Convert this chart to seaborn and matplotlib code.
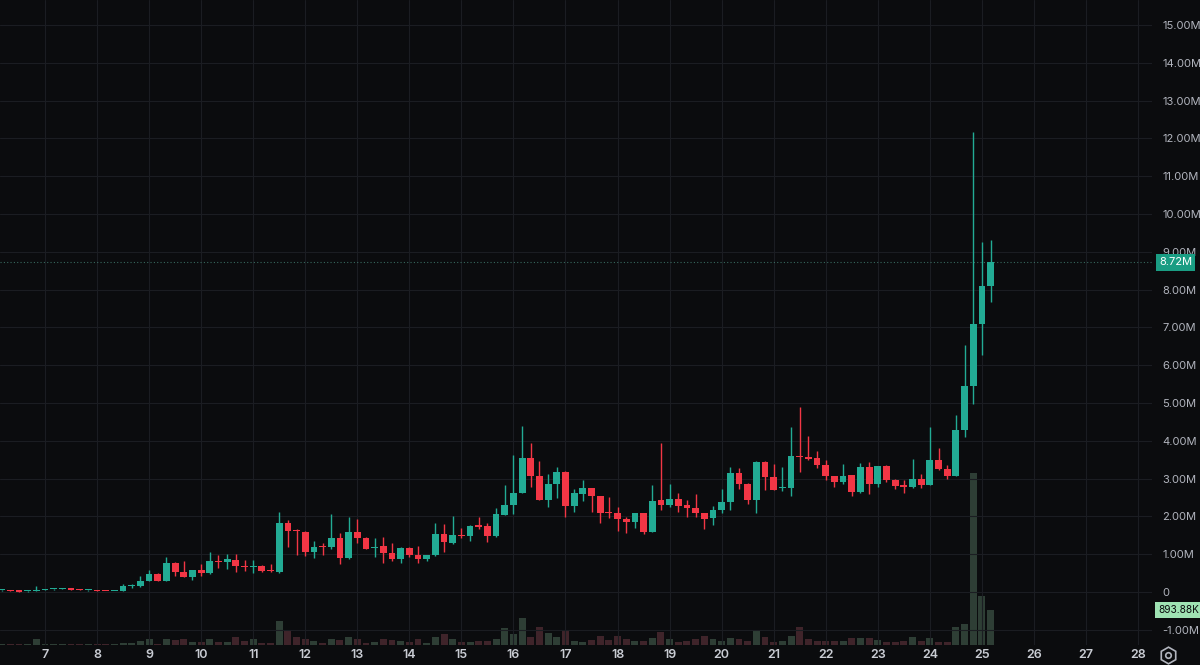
import numpy as np
import pandas as pd
import matplotlib
matplotlib.use("Agg")
import matplotlib.pyplot as plt
from matplotlib.lines import Line2D
import matplotlib.transforms as mtransforms
import seaborn as sns

# ---------------- data (4h candles, prices in millions, volume in K) ----------------
start_day = 6 + 1 / 6     # time of first candle (day of month)
step_days = 1 / 6         # 4-hour candles

opens = [0.04, 0.045, 0.03, 0.015, 0.03, 0.06, 0.07, 0.08, 0.10, 0.07,
         0.04, 0.04, 0.03, 0.02, 0.03, 0.16, 0.15, 0.29, 0.48, 0.29,
         0.78, 0.53, 0.40, 0.58, 0.50, 0.82, 0.80, 0.85, 0.70, 0.67,
         0.70, 0.56, 0.53, 1.82, 1.64, 1.60, 1.07, 1.23, 1.18, 1.42,
         0.89, 1.58, 1.44, 1.17, 1.22, 1.02, 0.87, 1.16, 0.99, 0.87,
         0.98, 1.53, 1.30, 1.52, 1.48, 1.76, 1.75, 1.49, 2.05, 2.30,
         2.63, 3.54, 3.07, 2.43, 2.86, 3.18, 2.28, 2.60, 2.74, 2.54,
         2.10, 2.10, 1.93, 1.84, 2.08, 1.60, 2.43, 2.30, 2.46, 2.30,
         2.22, 2.10, 1.95, 2.16, 2.39, 3.16, 2.85, 2.43, 3.45, 3.05,
         2.74, 2.76, 3.60, 3.58, 3.55, 3.37, 3.07, 2.90, 3.09, 2.64,
         3.30, 2.86, 3.33, 2.96, 2.81, 2.79, 2.99, 2.84, 3.48, 3.25,
         3.08, 4.28, 5.46, 7.09, 8.10]
highs = [0.05, 0.05, 0.035, 0.03, 0.16, 0.08, 0.085, 0.11, 0.105, 0.08,
         0.05, 0.045, 0.035, 0.035, 0.21, 0.20, 0.42, 0.57, 0.49, 0.92,
         0.79, 0.81, 0.59, 0.73, 1.05, 0.98, 1.00, 1.00, 0.84, 0.84,
         0.71, 0.74, 2.12, 1.90, 1.67, 1.61, 1.36, 1.29, 2.06, 1.57,
         1.99, 1.93, 1.45, 1.42, 1.45, 1.29, 1.20, 1.20, 1.22, 0.99,
         1.82, 1.80, 2.01, 1.68, 1.78, 1.99, 1.82, 2.21, 2.83, 3.62,
         4.39, 3.95, 3.47, 3.12, 3.31, 3.20, 2.72, 2.96, 2.76, 2.55,
         2.52, 2.24, 1.99, 2.08, 2.08, 2.83, 3.95, 2.87, 2.63, 2.43,
         2.60, 2.10, 2.28, 2.72, 3.31, 3.27, 2.88, 3.47, 3.47, 3.38,
         3.31, 4.36, 4.90, 4.14, 3.73, 3.49, 3.07, 3.38, 3.09, 3.40,
         3.44, 3.33, 3.35, 2.99, 2.97, 3.53, 3.11, 4.36, 3.80, 3.36,
         4.68, 6.53, 12.18, 9.27, 9.31]
lows = [0.03, 0.03, 0.005, 0.01, 0.02, 0.05, 0.06, 0.075, 0.04, 0.05,
        0.03, 0.02, 0.015, 0.015, 0.02, 0.10, 0.14, 0.28, 0.28, 0.28,
        0.42, 0.39, 0.33, 0.42, 0.47, 0.63, 0.60, 0.52, 0.55, 0.49,
        0.54, 0.53, 0.50, 1.18, 0.98, 0.95, 0.89, 0.98, 1.15, 0.73,
        0.86, 1.30, 1.15, 0.93, 0.78, 0.83, 0.76, 0.92, 0.76, 0.83,
        0.95, 1.07, 1.28, 1.44, 1.34, 1.67, 1.31, 1.45, 2.03, 2.06,
        2.61, 2.79, 2.43, 2.24, 2.48, 1.99, 2.12, 2.42, 2.12, 1.83,
        1.95, 1.62, 1.55, 1.70, 1.54, 1.58, 2.16, 2.24, 2.12, 1.98,
        1.98, 1.66, 1.76, 2.10, 2.16, 2.72, 2.34, 2.08, 2.69, 2.69,
        2.66, 2.55, 3.18, 3.49, 3.27, 2.96, 2.79, 2.87, 2.55, 2.61,
        2.58, 2.79, 2.92, 2.73, 2.61, 2.76, 2.76, 2.82, 3.24, 3.00,
        3.06, 4.11, 4.97, 6.28, 7.66]
closes = [0.045, 0.035, 0.01, 0.025, 0.06, 0.075, 0.08, 0.10, 0.05, 0.06,
          0.045, 0.025, 0.02, 0.03, 0.16, 0.18, 0.30, 0.48, 0.30, 0.78,
          0.53, 0.40, 0.58, 0.49, 0.82, 0.80, 0.86, 0.70, 0.67, 0.70,
          0.55, 0.545, 1.82, 1.62, 1.61, 1.07, 1.20, 1.20, 1.42, 0.91,
          1.58, 1.44, 1.15, 1.20, 1.02, 0.86, 1.16, 0.98, 0.87, 0.99,
          1.53, 1.31, 1.51, 1.49, 1.75, 1.73, 1.49, 2.06, 2.30, 2.63,
          3.54, 3.07, 2.43, 2.86, 3.18, 2.28, 2.63, 2.74, 2.54, 2.10,
          2.08, 1.93, 1.84, 2.08, 1.60, 2.41, 2.30, 2.46, 2.28, 2.21,
          2.08, 1.93, 2.16, 2.39, 3.16, 2.85, 2.43, 3.45, 3.05, 2.71,
          2.77, 3.60, 3.56, 3.53, 3.36, 3.08, 2.90, 3.07, 2.64, 3.30,
          2.86, 3.33, 2.96, 2.80, 2.79, 2.99, 2.84, 3.48, 3.25, 3.08,
          4.29, 5.46, 7.09, 8.10, 8.72]
volumes_k = [15, 18, 18, 20, 153, 26, 20, 23, 26, 20,
             31, 20, 20, 26, 51, 51, 102, 153, 38, 153,
             128, 153, 89, 64, 153, 77, 89, 192, 102, 153,
             51, 51, 613, 358, 217, 153, 110, 59, 146, 128,
             197, 146, 59, 69, 161, 135, 94, 69, 146, 43,
             197, 273, 153, 69, 69, 102, 102, 153, 427, 273,
             697, 197, 467, 314, 204, 375, 102, 69, 120, 238,
             120, 230, 146, 102, 110, 186, 340, 161, 84, 110,
             161, 238, 161, 110, 186, 146, 102, 375, 204, 84,
             110, 230, 460, 146, 102, 102, 102, 102, 186, 171,
             186, 128, 77, 69, 94, 212, 102, 186, 84, 84,
             467, 544, 4393, 1251, 893.88]

day_ticks = list(range(7, 29))
price_ticks = list(range(-1, 16))

# ---------------- style ----------------
BG = "#0b0c0e"
GRID = "#1b1d22"
UP = "#22ab94"
DOWN = "#f23645"
UP_VOL = "#2e3e35"
DOWN_VOL = "#3f242a"
TICK_Y = "#b2b5be"
TICK_X = "#c9ccd3"

sns.set_theme(style="dark", rc={"axes.facecolor": BG, "figure.facecolor": BG,
                                "savefig.facecolor": BG})
plt.rcParams["font.family"] = ["Inter", "DejaVu Sans"]

df = pd.DataFrame({"open": opens, "high": highs, "low": lows,
                   "close": closes, "volume": volumes_k})
df["t"] = start_day + step_days * np.arange(len(df))
df["dir"] = np.where(df["close"] >= df["open"], "up", "down")

W, H = 1200, 665
fig = plt.figure(figsize=(W / 100, H / 100), dpi=100)
rect = [0, 20 / H, 1152 / W, 645 / H]
axv = fig.add_axes(rect)
ax = fig.add_axes(rect, sharex=axv)
ax.patch.set_alpha(0)

# volume pane (behind)
sns.barplot(data=df, x="t", y="volume", hue="dir", native_scale=True,
            palette={"up": UP_VOL, "down": DOWN_VOL}, dodge=False,
            width=0.8, errorbar=None, legend=False, ax=axv, saturation=1)
for p in axv.patches:
    p.set_edgecolor("none")
axv.set_ylim(0, volumes_k[-1] / 35 * 645)
axv.set_xlabel("")
axv.set_ylabel("")
axv.set_yticks([])
axv.tick_params(axis="x", bottom=False, labelbottom=False)
axv.grid(False)
for s in axv.spines.values():
    s.set_visible(False)

# grid on price pane
ax.set_xlim(7 - 45 / 52.05, 7 + (1152 - 45) / 52.05)
ax.set_ylim((592 - 645) / 37.8, 592 / 37.8)
ax.set_xticks(day_ticks)
ax.set_xticklabels([str(d) for d in day_ticks])
ax.set_yticks(price_ticks)
ax.set_yticklabels(["0" if v == 0 else f"{v:.2f}M" for v in price_ticks])
ax.yaxis.tick_right()
ax.grid(True, color=GRID, lw=0.8)
ax.set_axisbelow(True)
for s in ax.spines.values():
    s.set_visible(False)
ax.tick_params(axis="y", length=0, pad=7.5, labelsize=8, labelcolor=TICK_Y)
ax.tick_params(axis="x", length=0, pad=3, labelsize=9, labelcolor=TICK_X)
for lab in ax.get_xticklabels():
    lab.set_fontweight("semibold")

# candles
colors = np.where(df["dir"] == "up", UP, DOWN)
ax.vlines(df["t"], df["low"], df["high"], colors=colors, lw=1, zorder=3)
body_lo = np.minimum(df["open"], df["close"])
body_h = np.maximum(np.abs(df["close"] - df["open"]), 0.03)
ax.bar(df["t"], body_h, bottom=body_lo, width=step_days * 0.78,
       color=colors, edgecolor="none", zorder=4)

# last price line + labels
last = closes[-1]
ax.axhline(last, color="#4a8f80", lw=0.8, ls=(0, (1, 2)), alpha=0.7, zorder=2)
trans_p = mtransforms.blended_transform_factory(ax.transAxes, ax.transData)
ax.text(1159 / 1152, last, f"{last:.2f}M", transform=trans_p, ha="left",
        va="center", color="white", fontsize=8, zorder=10, clip_on=False,
        bbox=dict(boxstyle="square,pad=0.3", fc="#1a9d83", ec="none"))
vol_y = ax.transData.inverted().transform(
    axv.transData.transform((0, volumes_k[-1])))[1]
ax.text(1158 / 1152, vol_y, f"{volumes_k[-1]:.2f}K", transform=trans_p,
        ha="left", va="center", color="#0b0c0e", fontsize=7.3, zorder=10,
        clip_on=False,
        bbox=dict(boxstyle="square,pad=0.25", fc="#9fe3b3", ec="none"))

# settings icon
fig.add_artist(Line2D([1168 / W], [1 - 655 / H], marker="h", ms=12, mfc="none",
                      mec=TICK_Y, mew=1.2, transform=fig.transFigure))
fig.add_artist(Line2D([1168 / W], [1 - 655 / H], marker="o", ms=4, mfc="none",
                      mec=TICK_Y, mew=1.2, transform=fig.transFigure))

fig.savefig("out.png", dpi=100, facecolor=BG)
